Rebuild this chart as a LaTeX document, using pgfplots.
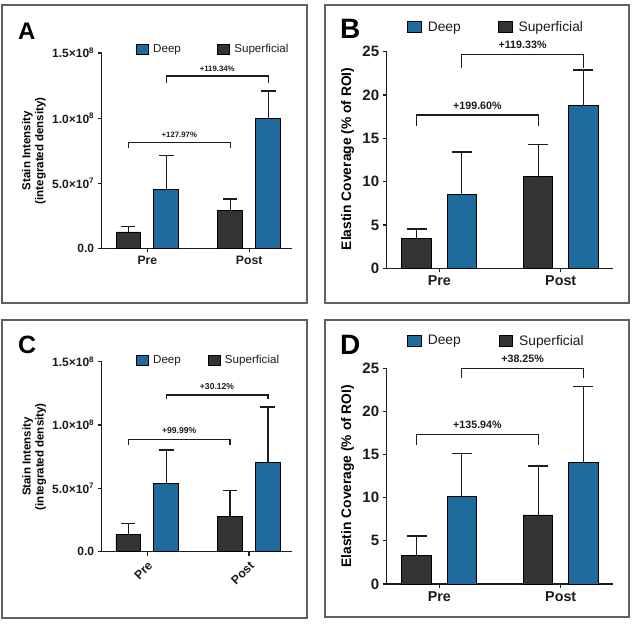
\documentclass[border=0pt]{standalone}
\usepackage{fontspec}
\setmainfont{Liberation Sans}
\usepackage{pgfplots}
\pgfplotsset{compat=1.18}
\definecolor{deepblue}{HTML}{1F6B9E}
\definecolor{supdark}{HTML}{333333}
\definecolor{axcol}{HTML}{1C1C1C}
\definecolor{boxcol}{HTML}{606060}
\newcommand\fs[1]{\fontsize{#1}{#1}\selectfont}
\tikzset{brk/.style={line width=1.2pt, color=axcol}}
\pgfplotsset{
  panel/.style={
    scale only axis, clip=false,
    axis x line*=bottom, axis y line*=left,
    axis line style={-, line width=1.4pt, color=axcol},
    xtick={0,1}, xticklabels={Pre,Post},
    ymin=0, scaled y ticks=false,
    tick align=outside, major tick length=4pt,
    every tick/.style={line width=1.2pt, color=axcol},
    tick label style={color=axcol},
    legend columns=2,
    legend style={draw=none, fill=none, inner sep=0pt, outer sep=0pt, anchor=west,
      nodes={inner sep=0pt, outer sep=0pt, text=axcol}},
    legend cell align=left,
  },
  deepleg/.style n args={3}{legend image code/.code={\draw[fill=deepblue, draw=black, line width=0.6pt] (0pt,-#2) rectangle (#1,#2); \path (#3,0pt);}},
  supleg/.style n args={4}{legend image code/.code={\path (-#4,0pt); \draw[fill=supdark, draw=black, line width=0.6pt] (0pt,-#2) rectangle (#1,#2); \path (#3,0pt);}},
  supbar/.style n args={2}{ybar, bar width=0.243, bar shift=0pt, fill=supdark, draw=black, line width=0.9pt, forget plot,
    error bars/.cd, y dir=plus, y explicit, error bar style={line width=#1, color=axcol},
    error mark options={rotate=90, line width=#1, color=axcol, mark size=#2}},
  deepbar/.style n args={2}{ybar, bar width=0.243, bar shift=0pt, fill=deepblue, draw=black, line width=0.9pt, forget plot,
    error bars/.cd, y dir=plus, y explicit, error bar style={line width=#1, color=axcol},
    error mark options={rotate=90, line width=#1, color=axcol, mark size=#2}},
}
\begin{document}
\begin{tikzpicture}
\path[use as bounding box] (0pt,0pt) rectangle (635pt,628pt);
\fill[white] (0pt,0pt) rectangle (635pt,628pt);
% panel boxes
\draw[boxcol, line width=1.6pt] (2pt,325pt) rectangle (307pt,623pt);
\draw[boxcol, line width=1.6pt] (325pt,325pt) rectangle (629pt,623pt);
\draw[boxcol, line width=1.6pt] (2pt,10pt) rectangle (307pt,308pt);
\draw[boxcol, line width=1.6pt] (325pt,11pt) rectangle (629pt,308pt);
% panel letters
\node[anchor=base west, inner sep=0pt, font=\bfseries\fs{24}] at (18pt,588pt) {A};
\node[anchor=base west, inner sep=0pt, font=\bfseries\fs{28}] at (340pt,589.7pt) {B};
\node[anchor=base west, inner sep=0pt, font=\bfseries\fs{25}] at (18pt,274.7pt) {C};
\node[anchor=base west, inner sep=0pt, font=\bfseries\fs{28}] at (340pt,273pt) {D};

% ---------------- A ----------------
\begin{axis}[panel, at={(101.7pt,379.5pt)}, anchor=south west, width=190.3pt, height=195.5pt,
  xmin=-0.448, xmax=1.42, ymax=1.5e8,
  ytick={0,5e7,1e8,1.5e8},
  yticklabels={0.0, 5.0×10\textsuperscript{7}, 1.0×10\textsuperscript{8}, 1.5×10\textsuperscript{8}},
  y tick label style={font=\bfseries\fs{12}},
  x tick label style={font=\bfseries\fs{12.2}},
  ylabel={Stain Intensity\\(integrated density)},
  ylabel style={font=\bfseries\fontsize{11.5}{13}\selectfont, align=center, at={(axis description cs:-0.356,0.5)}, anchor=center},
  legend style={at={(axis description cs:0.1802,1.0205)}, font=\fs{11.6}},
]
\addlegendimage{deepleg={12pt}{5pt}{16.7pt}}
\addlegendentry{Deep}
\addlegendimage{supleg={12pt}{5pt}{16.7pt}{36.3pt}}
\addlegendentry{Superficial}
\addplot[supbar={1.2pt}{7pt}] coordinates {(-0.186,1.266e7) +- (0,0.41e7) (0.814,2.90e7) +- (0,0.90e7)};
\addplot[deepbar={1.2pt}{7.5pt}] coordinates {(0.186,4.54e7) +- (0,2.58e7) (1.186,9.99e7) +- (0,2.09e7)};
\draw[brk] (axis cs:-0.186,7.69e7) -- (axis cs:-0.186,8.12e7) -- (axis cs:0.814,8.12e7) -- (axis cs:0.814,7.69e7);
\node[anchor=base, inner sep=0pt, yshift=4.8pt, font=\bfseries\fs{7.8}, text=axcol] at (axis cs:0.314,8.12e7) {+127.97\%};
\draw[brk] (axis cs:0.186,1.267e8) -- (axis cs:0.186,1.324e8) -- (axis cs:1.186,1.324e8) -- (axis cs:1.186,1.267e8);
\node[anchor=base, inner sep=0pt, yshift=4.2pt, font=\bfseries\fs{7.8}, text=axcol] at (axis cs:0.686,1.324e8) {+119.34\%};
\end{axis}

% ---------------- B ----------------
\begin{axis}[panel, at={(386.7pt,359.7pt)}, anchor=south west, width=226.6pt, height=216.6pt,
  xmin=-0.433, xmax=1.433, ymax=25,
  ytick={0,5,10,15,20,25}, yticklabels={0,5,10,15,20,25},
  y tick label style={font=\bfseries\fs{15}},
  x tick label style={font=\bfseries\fs{14.3}},
  ylabel={Elastin Coverage (\% of ROI)},
  ylabel style={font=\bfseries\fs{13.8}, at={(axis description cs:-0.173,0.505)}, anchor=center},
  legend style={at={(axis description cs:0.0909,1.113)}, font=\fs{13.8}},
]
\addlegendimage{deepleg={13.7pt}{5.5pt}{20pt}}
\addlegendentry{Deep}
\addlegendimage{supleg={13.7pt}{5.5pt}{20pt}{37.4pt}}
\addlegendentry{Superficial}
\addplot[supbar={1.2pt}{10pt}] coordinates {(-0.186,3.46) +- (0,1.07) (0.814,10.58) +- (0,3.72)};
\addplot[deepbar={1.2pt}{10pt}] coordinates {(0.186,8.57) +- (0,4.85) (1.186,18.84) +- (0,4.04)};
\draw[brk] (axis cs:-0.186,16.42) -- (axis cs:-0.186,17.69) -- (axis cs:0.814,17.69) -- (axis cs:0.814,16.42);
\node[anchor=base, inner sep=0pt, yshift=5.2pt, font=\bfseries\fs{10.7}, text=axcol] at (axis cs:0.314,17.69) {+199.60\%};
\draw[brk] (axis cs:0.186,23.07) -- (axis cs:0.186,24.68) -- (axis cs:1.186,24.68) -- (axis cs:1.186,23.07);
\node[anchor=base, inner sep=0pt, yshift=6pt, font=\bfseries\fs{10.7}, text=axcol] at (axis cs:0.686,24.68) {+119.33\%};
\end{axis}

% ---------------- C ----------------
\begin{axis}[panel, at={(101.7pt,76.3pt)}, anchor=south west, width=190pt, height=190pt,
  xmin=-0.448, xmax=1.42, ymax=1.5e8,
  ytick={0,5e7,1e8,1.5e8},
  yticklabels={0.0, 5.0×10\textsuperscript{7}, 1.0×10\textsuperscript{8}, 1.5×10\textsuperscript{8}},
  y tick label style={font=\bfseries\fs{12}},
  x tick label style={font=\bfseries\fs{12.2}, rotate=45, anchor=north east},
  ylabel={Stain Intensity\\(integrated density)},
  ylabel style={font=\bfseries\fontsize{11.5}{13}\selectfont, align=center, at={(axis description cs:-0.356,0.5)}, anchor=center},
  legend style={at={(axis description cs:0.1802,1.0063)}, font=\fs{11.6}},
]
\addlegendimage{deepleg={12pt}{5pt}{16.7pt}}
\addlegendentry{Deep}
\addlegendimage{supleg={12pt}{5pt}{16.7pt}{27pt}}
\addlegendentry{Superficial}
\addplot[supbar={1.2pt}{7pt}] coordinates {(-0.186,1.37e7) +- (0,0.87e7) (0.814,2.76e7) +- (0,2.06e7)};
\addplot[deepbar={1.2pt}{7.5pt}] coordinates {(0.186,5.39e7) +- (0,2.64e7) (1.186,7.03e7) +- (0,4.39e7)};
\draw[brk] (axis cs:-0.186,8.42e7) -- (axis cs:-0.186,8.87e7) -- (axis cs:0.814,8.87e7) -- (axis cs:0.814,8.42e7);
\node[anchor=base, inner sep=0pt, yshift=6pt, font=\bfseries\fs{8.6}, text=axcol] at (axis cs:0.314,8.87e7) {+99.99\%};
\draw[brk] (axis cs:0.186,1.203e8) -- (axis cs:0.186,1.237e8) -- (axis cs:1.186,1.237e8) -- (axis cs:1.186,1.203e8);
\node[anchor=base, inner sep=0pt, yshift=5.9pt, font=\bfseries\fs{8.6}, text=axcol] at (axis cs:0.686,1.237e8) {+30.12\%};
\end{axis}

% ---------------- D ----------------
\begin{axis}[panel, at={(386.7pt,44pt)}, anchor=south west, width=226.6pt, height=215.7pt,
  xmin=-0.433, xmax=1.433, ymax=25,
  ytick={0,5,10,15,20,25}, yticklabels={0,5,10,15,20,25},
  y tick label style={font=\bfseries\fs{15}},
  x tick label style={font=\bfseries\fs{14.3}},
  ylabel={Elastin Coverage (\% of ROI)},
  ylabel style={font=\bfseries\fs{13.8}, at={(axis description cs:-0.173,0.5)}, anchor=center},
  legend style={at={(axis description cs:0.0909,1.1275)}, font=\fs{13.8}},
]
\addlegendimage{deepleg={13.7pt}{5.5pt}{20pt}}
\addlegendentry{Deep}
\addlegendimage{supleg={13.7pt}{5.5pt}{20pt}{38pt}}
\addlegendentry{Superficial}
\addplot[supbar={1.2pt}{10pt}] coordinates {(-0.186,3.28) +- (0,2.28) (0.814,8.0) +- (0,5.68)};
\addplot[deepbar={1.2pt}{10pt}] coordinates {(0.186,10.12) +- (0,5.03) (1.186,14.06) +- (0,8.81)};
\draw[brk] (axis cs:-0.186,16.11) -- (axis cs:-0.186,17.35) -- (axis cs:0.814,17.35) -- (axis cs:0.814,16.11);
\node[anchor=base, inner sep=0pt, yshift=5.5pt, font=\bfseries\fs{10.7}, text=axcol] at (axis cs:0.314,17.35) {+135.94\%};
\draw[brk] (axis cs:0.186,23.84) -- (axis cs:0.186,25.0) -- (axis cs:1.186,25.0) -- (axis cs:1.186,23.84);
\node[anchor=base, inner sep=0pt, yshift=6.1pt, font=\bfseries\fs{10.7}, text=axcol] at (axis cs:0.686,25.0) {+38.25\%};
\end{axis}
\end{tikzpicture}
\end{document}
